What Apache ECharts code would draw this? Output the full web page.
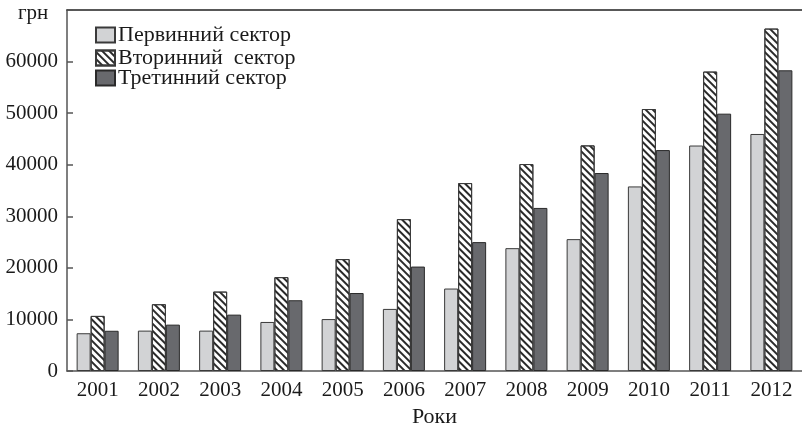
<!DOCTYPE html>
<html>
<head>
<meta charset="utf-8">
<script src="https://cdn.jsdelivr.net/npm/echarts@6/dist/echarts.min.js"></script>
<style>
html,body{margin:0;padding:0;background:#fff;}
#chart{width:802px;height:424px;}
</style>
</head>
<body>
<div id="chart"></div>
<script>
const years = ['2001','2002','2003','2004','2005','2006','2007','2008','2009','2010','2011','2012'];
const seriesNames = ['Первинний сектор', 'Вторинний  сектор', 'Третинний сектор'];
const primary = [7320, 7830, 7830, 9510, 10070, 12040, 15990, 23820, 25570, 35790, 43720, 45960];
const secondary = [10680, 12950, 15400, 18200, 21700, 29450, 36440, 40130, 43750, 50800, 58060, 66400];
const tertiary = [7800, 8990, 10930, 13720, 15120, 20250, 24990, 31620, 38390, 42840, 49900, 58310];
const yUnit = 'грн';
const xName = 'Роки';

const FONT = '"Liberation Serif", "DejaVu Serif", serif';
const TXT = '#1a1a1a';

const chart = echarts.init(document.getElementById('chart'), null, {renderer: 'canvas'});

function legendAt(name, top) {
  return {
    data: [name],
    left: 95,
    top: top,
    orient: 'vertical',
    icon: 'rect',
    itemWidth: 19,
    itemHeight: 15,
    itemGap: 4,
    selectedMode: false,
    textStyle: {fontFamily: FONT, fontSize: 22, color: TXT, padding: [0, 0, 0, -2]},
    padding: 0
  };
}

chart.setOption({
  animation: false,
  backgroundColor: '#ffffff',
  textStyle: {fontFamily: FONT},
  grid: {left: 67, right: 0, top: 10, bottom: 53, containLabel: false, outerBoundsMode: 'none'},
  legend: [
    legendAt(seriesNames[0], 24),
    legendAt(seriesNames[1], 47),
    legendAt(seriesNames[2], 67)
  ],
  graphic: [{
    type: 'text',
    left: 18,
    top: 3,
    style: {text: yUnit, font: '21px ' + FONT, fill: TXT}
  }],
  xAxis: [{
    type: 'category',
    data: years,
    axisLine: {lineStyle: {color: '#555', width: 1.5}},
    axisTick: {inside: true, length: 5, lineStyle: {color: '#555', width: 1.5}},
    axisLabel: {fontFamily: FONT, fontSize: 21, color: TXT, margin: 9},
    name: xName,
    nameLocation: 'middle',
    nameGap: 28,
    nameTextStyle: {fontFamily: FONT, fontSize: 22, color: TXT}
  }, {
    type: 'category',
    data: years,
    position: 'top',
    axisLine: {show: true, lineStyle: {color: '#222', width: 1.5}},
    axisTick: {show: false},
    axisLabel: {show: false}
  }],
  yAxis: {
    type: 'value',
    min: 0,
    max: 70000,
    interval: 10000,
    splitLine: {show: false},
    axisLine: {show: true, lineStyle: {color: '#555', width: 1.5}},
    axisTick: {show: true, inside: true, length: 6, lineStyle: {color: '#555', width: 1.5}},
    axisLabel: {
      fontFamily: FONT, fontSize: 21, color: TXT, margin: 9,
      formatter: function (v) { return v >= 70000 ? '' : String(v); }
    }
  },
  series: [{
    name: seriesNames[0],
    type: 'bar',
    data: primary,
    barWidth: 14,
    barGap: '0%',
    itemStyle: {color: '#d2d3d5', borderColor: '#3a3a3a', borderWidth: 1}
  }, {
    name: seriesNames[1],
    type: 'bar',
    data: secondary,
    barWidth: 14,
    barGap: '0%',
    itemStyle: {
      color: '#ffffff', borderColor: '#3a3a3a', borderWidth: 1,
      decal: {
        symbol: 'rect',
        color: '#2a2a2a',
        dashArrayX: [1, 0],
        dashArrayY: [1.4, 3],
        rotation: Math.PI / 4
      }
    }
  }, {
    name: seriesNames[2],
    type: 'bar',
    data: tertiary,
    barWidth: 14,
    barGap: '0%',
    itemStyle: {color: '#68696d', borderColor: '#2a2a2a', borderWidth: 1}
  }]
});
</script>
</body>
</html>
